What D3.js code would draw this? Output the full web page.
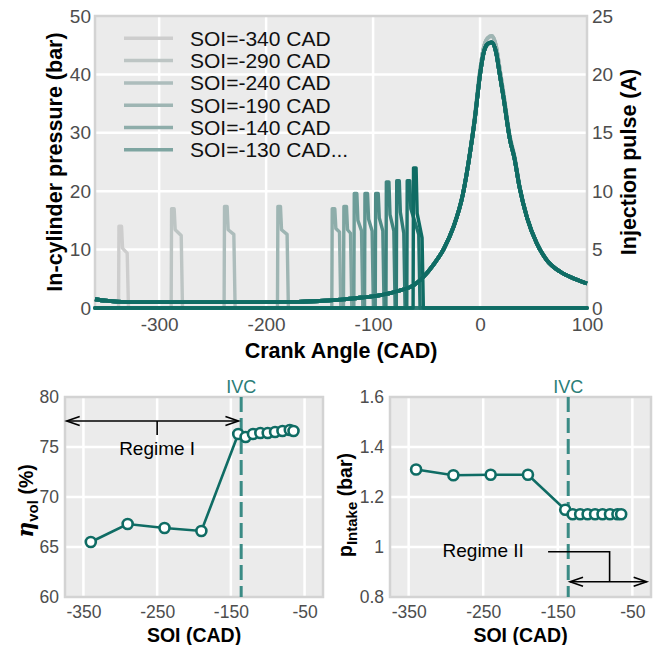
<!DOCTYPE html>
<html><head><meta charset="utf-8">
<script src="https://cdn.jsdelivr.net/npm/d3@7"></script>
<style>
body{margin:0;background:#fff;}
svg{display:block;font-family:"Liberation Sans",Arial,Helvetica,sans-serif;}
</style></head><body>
<svg id="c" width="656" height="645"></svg>
<script>
// ---------------- DATA ----------------
const soi = [-340,-290,-240,-190,-140,-130,-120,-110,-100,-90,-80,-70,-65];
// injection pulse (A)
const pulseStart   = [-338,-288.8,-239.3,-189.4,-138.6,-127.7,-118,-108,-98,-88,-78.3,-68.5,-62.6];
const pulseEnd     = [-328.7,-278.2,-229,-179.2,-130.2,-119.9,-109.6,-99.7,-89.7,-79.4,-70.1,-56.1,-53];
const pulsePeak    = [7.0,8.5,8.7,8.7,8.5,8.7,9.8,9.8,9.8,10.8,10.9,10.9,12.0];
const pulseHold    = [5.1,6.7,6.7,6.7,6.8,6.7,7.5,7.6,7.7,8.0,8.2,8.5,8.1];
const pulseHoldEnd = [4.7,6.2,6.3,6.3,6.5,6.4,6.6,6.6,6.6,6.6,6.4,6.3,6.0];
// in-cylinder pressure (bar)
const crankAngle = [-360,-350,-340,-320,-280,-240,-200,-170,-150,-130,-110,-93,-75,-62,-53,-44,-34,-25,-16,-9,-5,0,3,7,11,15,18,22,28,32,37,44,53,62,75,87,100];
const pressureEarly = [1.5,1.25,1.1,1.0,1.0,1.0,1.0,1.05,1.2,1.45,1.8,2.2,3.0,3.9,5.3,7.3,10.1,13.8,19.6,27.2,32.6,40.6,44.2,46.2,46.6,44.8,41.4,36.6,29.2,26.1,20.8,15.5,11.1,8.3,6.2,5.1,4.2];
const pressureLate  = [1.5,1.25,1.1,1.0,1.0,1.0,1.0,1.05,1.2,1.45,1.8,2.2,3.0,3.9,5.3,7.3,10.1,13.8,19.5,27.0,32.2,40.0,43.4,45.2,45.5,43.8,40.5,36.0,28.8,25.8,20.6,15.4,11.1,8.3,6.2,5.1,4.2];
// bottom panels
const etaVol  = [65.5,67.3,66.9,66.6,76.3,76.0,76.3,76.4,76.4,76.5,76.6,76.7,76.6];
const pIntake = [1.31,1.287,1.289,1.289,1.149,1.131,1.131,1.131,1.131,1.131,1.131,1.131,1.131];
const ivc = -136;
const legendLabels = ["SOI=-340 CAD","SOI=-290 CAD","SOI=-240 CAD","SOI=-190 CAD","SOI=-140 CAD","SOI=-130 CAD..."];
const topXTicks = [-300,-200,-100,0,100];
const topYTicks = [0,10,20,30,40,50];
const topY2Ticks = [0,5,10,15,20,25];
const botXTicks = [-350,-250,-150,-50];
const etaTicks = [60,65,70,75,80];
const pTicks = [0.8,1.0,1.2,1.4,1.6];
const pTickLabels = ["0.8","1","1.2","1.4","1.6"];

// ---------------- STYLE ----------------
const TEAL = "#0f6c64";
const IVC_COL = "#3a8b85";
const BG = "#ebebeb", BORDER = "#d3d3d3", TICKCOL = "#4d4d4d";
const colors = soi.map((d,i)=>d3.interpolateRgb("#cdcdcd", TEAL)(i/(soi.length-1)));
const fmtHyphen = d => String(d);

const svg = d3.select("#c");

function panel(x, y, xGrid, yGrid) {
  const [x0,x1] = x.range(), [y0,y1] = y.range();
  const g = svg.append("g");
  g.append("rect").attr("x",x0).attr("y",y1).attr("width",x1-x0).attr("height",y0-y1).attr("fill",BG);
  g.selectAll(".gx").data(xGrid).join("line").attr("x1",d=>x(d)).attr("x2",d=>x(d)).attr("y1",y0).attr("y2",y1)
    .attr("stroke","#fff").attr("stroke-width",2.5);
  g.selectAll(".gy").data(yGrid).join("line").attr("y1",d=>y(d)).attr("y2",d=>y(d)).attr("x1",x0).attr("x2",x1)
    .attr("stroke","#fff").attr("stroke-width",2.5);
  g.append("rect").attr("x",x0).attr("y",y1).attr("width",x1-x0).attr("height",y0-y1)
    .attr("fill","none").attr("stroke",BORDER).attr("stroke-width",2.5);
  return g;
}
function styleAxis(g, size) {
  g.select(".domain").remove();
  g.selectAll("text").attr("fill",TICKCOL).style("font-size",size+"px").style("font-family",'"Liberation Sans",Arial,sans-serif');
}

// ---------------- TOP PANEL ----------------
const x = d3.scaleLinear([-360,100],[95,587]);
const yL = d3.scaleLinear([0,50],[308,16]);
const yR = d3.scaleLinear([0,25],[308,16]);
panel(x, yL, [-300,-200,-100,0], [10,20,30,40]);

const lineP = d3.line().x(d=>x(d[0])).y(d=>yL(d[1])).curve(d3.curveMonotoneX);
const lineI = d3.line().x(d=>x(d[0])).y(d=>yR(d[1]));

const traces = svg.append("g");
soi.forEach((s,i)=>{
  const pr = i < 4 ? pressureEarly : pressureLate;
  traces.append("path").datum(crankAngle.map((c,k)=>[c,pr[k]])).attr("d",lineP)
    .attr("fill","none").attr("stroke",colors[i]).attr("stroke-width",3.8).attr("stroke-linejoin","round");
  const st = pulseStart[i], en = pulseEnd[i];
  const pts = [[-360,0],[st,0],[st+0.4,pulsePeak[i]],[st+2.8,pulsePeak[i]],[st+3.8,pulseHold[i]],
               [en-1.2,pulseHoldEnd[i]],[en,0],[100,0]];
  traces.append("path").datum(pts).attr("d",lineI)
    .attr("fill","none").attr("stroke",colors[i]).attr("stroke-width",3.4)
    .attr("stroke-linejoin","round").attr("stroke-linecap","round");
});

// axes
styleAxis(svg.append("g").attr("transform","translate(95,0)")
  .call(d3.axisLeft(yL).tickValues(topYTicks).tickFormat(fmtHyphen).tickSize(0).tickPadding(4)), 19);
styleAxis(svg.append("g").attr("transform","translate(587,0)")
  .call(d3.axisRight(yR).tickValues(topY2Ticks).tickFormat(fmtHyphen).tickSize(0).tickPadding(5)), 19);
styleAxis(svg.append("g").attr("transform","translate(0,308)")
  .call(d3.axisBottom(x).tickValues(topXTicks).tickFormat(fmtHyphen).tickSize(0).tickPadding(10)), 19);

svg.append("text").attr("x",341).attr("y",358).attr("text-anchor","middle")
  .style("font-size","21.5px").style("font-weight","bold").text("Crank Angle (CAD)");
svg.append("text").attr("transform","translate(62,162) rotate(-90)").attr("text-anchor","middle")
  .style("font-size","21.5px").style("font-weight","bold").text("In-cylinder pressure (bar)");
svg.append("text").attr("transform","translate(636,162) rotate(-90)").attr("text-anchor","middle")
  .style("font-size","21.5px").style("font-weight","bold").text("Injection pulse (A)");

// legend
const leg = svg.append("g");
legendLabels.forEach((t,i)=>{
  const yy = 38.3 + i*22.3;
  leg.append("line").attr("x1",124).attr("x2",173).attr("y1",yy).attr("y2",yy)
    .attr("stroke",colors[i]).attr("stroke-width",3.5);
  leg.append("text").attr("x",190).attr("y",yy+7.5).style("font-size","21px").attr("fill","#111").text(t);
});

// ---------------- BOTTOM PANELS ----------------
function arrowHead(g, xt, yt, dir) {
  const L = 13, W = 4.5;
  g.append("path").attr("d",`M${xt+dir*L},${yt-W}L${xt},${yt}L${xt+dir*L},${yt+W}`)
    .attr("fill","none").attr("stroke","#000").attr("stroke-width",1.6);
}
function bottomPanel(xs, ys, values, yTicks, yGrid, fmt) {
  panel(xs, ys, botXTicks, yGrid);
  const g = svg.append("g");
  // IVC
  g.append("line").attr("x1",xs(ivc)).attr("x2",xs(ivc)).attr("y1",ys.range()[1]).attr("y2",ys.range()[0])
    .attr("stroke",IVC_COL).attr("stroke-width",3).attr("stroke-dasharray","15,6");
  g.append("text").attr("x",xs(ivc)).attr("y",393).attr("text-anchor","middle").attr("fill","#2a7d77")
    .style("font-size","18px").text("IVC");
  const ln = d3.line().x((d,i)=>xs(soi[i])).y(d=>ys(d));
  g.append("path").datum(values).attr("d",ln).attr("fill","none").attr("stroke",TEAL).attr("stroke-width",2.6);
  g.selectAll("circle").data(values).join("circle").attr("cx",(d,i)=>xs(soi[i])).attr("cy",d=>ys(d)).attr("r",5)
    .attr("fill","#fff").attr("stroke",TEAL).attr("stroke-width",2.6);
  const [x0] = xs.range(), [y0] = ys.range();
  styleAxis(svg.append("g").attr("transform",`translate(${x0},0)`)
    .call(d3.axisLeft(ys).tickValues(yTicks).tickFormat(fmt).tickSize(0).tickPadding(6)), 17.5);
  styleAxis(svg.append("g").attr("transform",`translate(0,${y0})`)
    .call(d3.axisBottom(xs).tickValues(botXTicks).tickFormat(fmtHyphen).tickSize(0).tickPadding(9)), 17.5);
  svg.append("text").attr("x",(xs.range()[0]+xs.range()[1])/2).attr("y",641.5).attr("text-anchor","middle")
    .style("font-size","19.5px").style("font-weight","bold").text("SOI (CAD)");
  return g;
}

const xB1 = d3.scaleLinear([-375,-25],[65,323]);
const yB1 = d3.scaleLinear([60,80],[597,397]);
const g1 = bottomPanel(xB1, yB1, etaVol, etaTicks, [65,70,75], fmtHyphen);
// Regime I annotation
g1.append("line").attr("x1",xB1(-372.7)).attr("x2",xB1(-139.7)).attr("y1",yB1(77.6)).attr("y2",yB1(77.6))
  .attr("stroke","#000").attr("stroke-width",1.6);
arrowHead(g1, xB1(-372.7), yB1(77.6), 1);
arrowHead(g1, xB1(-139.7), yB1(77.6), -1);
g1.append("line").attr("x1",xB1(-250)).attr("x2",xB1(-250)).attr("y1",yB1(77.6)).attr("y2",yB1(76.2))
  .attr("stroke","#000").attr("stroke-width",1.6);
g1.append("text").attr("x",xB1(-250)).attr("y",yB1(74.2)).attr("text-anchor","middle")
  .style("font-size","19px").text("Regime I");
const t1 = svg.append("text").attr("transform",`translate(33,${(397+597)/2+4}) rotate(-90)`).attr("text-anchor","middle")
  .style("font-weight","bold").style("font-size","19.5px");
t1.append("tspan").style("font-family",'"DejaVu Serif",serif').style("font-style","italic").style("font-size","22px").text("η");
t1.append("tspan").attr("dy",5).style("font-size","15px").text("vol");
t1.append("tspan").attr("dy",-5).text(" (%)");

const xB2 = d3.scaleLinear([-375,-25],[390,651]);
const yB2 = d3.scaleLinear([0.8,1.6],[597,397]);
const g2 = bottomPanel(xB2, yB2, pIntake, pTicks, [1.0,1.2,1.4], (d,i)=>pTickLabels[i]);
// Regime II annotation
g2.append("path").attr("d",`M${xB2(-163)},${yB2(0.981)}H${xB2(-80.5)}V${yB2(0.861)}`)
  .attr("fill","none").attr("stroke","#000").attr("stroke-width",1.6);
g2.append("line").attr("x1",xB2(-133.6)).attr("x2",xB2(-30.8)).attr("y1",yB2(0.861)).attr("y2",yB2(0.861))
  .attr("stroke","#000").attr("stroke-width",1.6);
arrowHead(g2, xB2(-133.6), yB2(0.861), 1);
arrowHead(g2, xB2(-30.8), yB2(0.861), -1);
g2.append("text").attr("x",xB2(-250)).attr("y",yB2(0.961)).attr("text-anchor","middle")
  .style("font-size","19px").text("Regime II");
const t2 = svg.append("text").attr("transform",`translate(352,${(397+597)/2+8}) rotate(-90)`).attr("text-anchor","middle")
  .style("font-weight","bold").style("font-size","19.5px");
t2.append("tspan").text("p");
t2.append("tspan").attr("dy",5).style("font-size","15px").text("Intake");
t2.append("tspan").attr("dy",-5).text(" (bar)");
</script>
</body></html>
